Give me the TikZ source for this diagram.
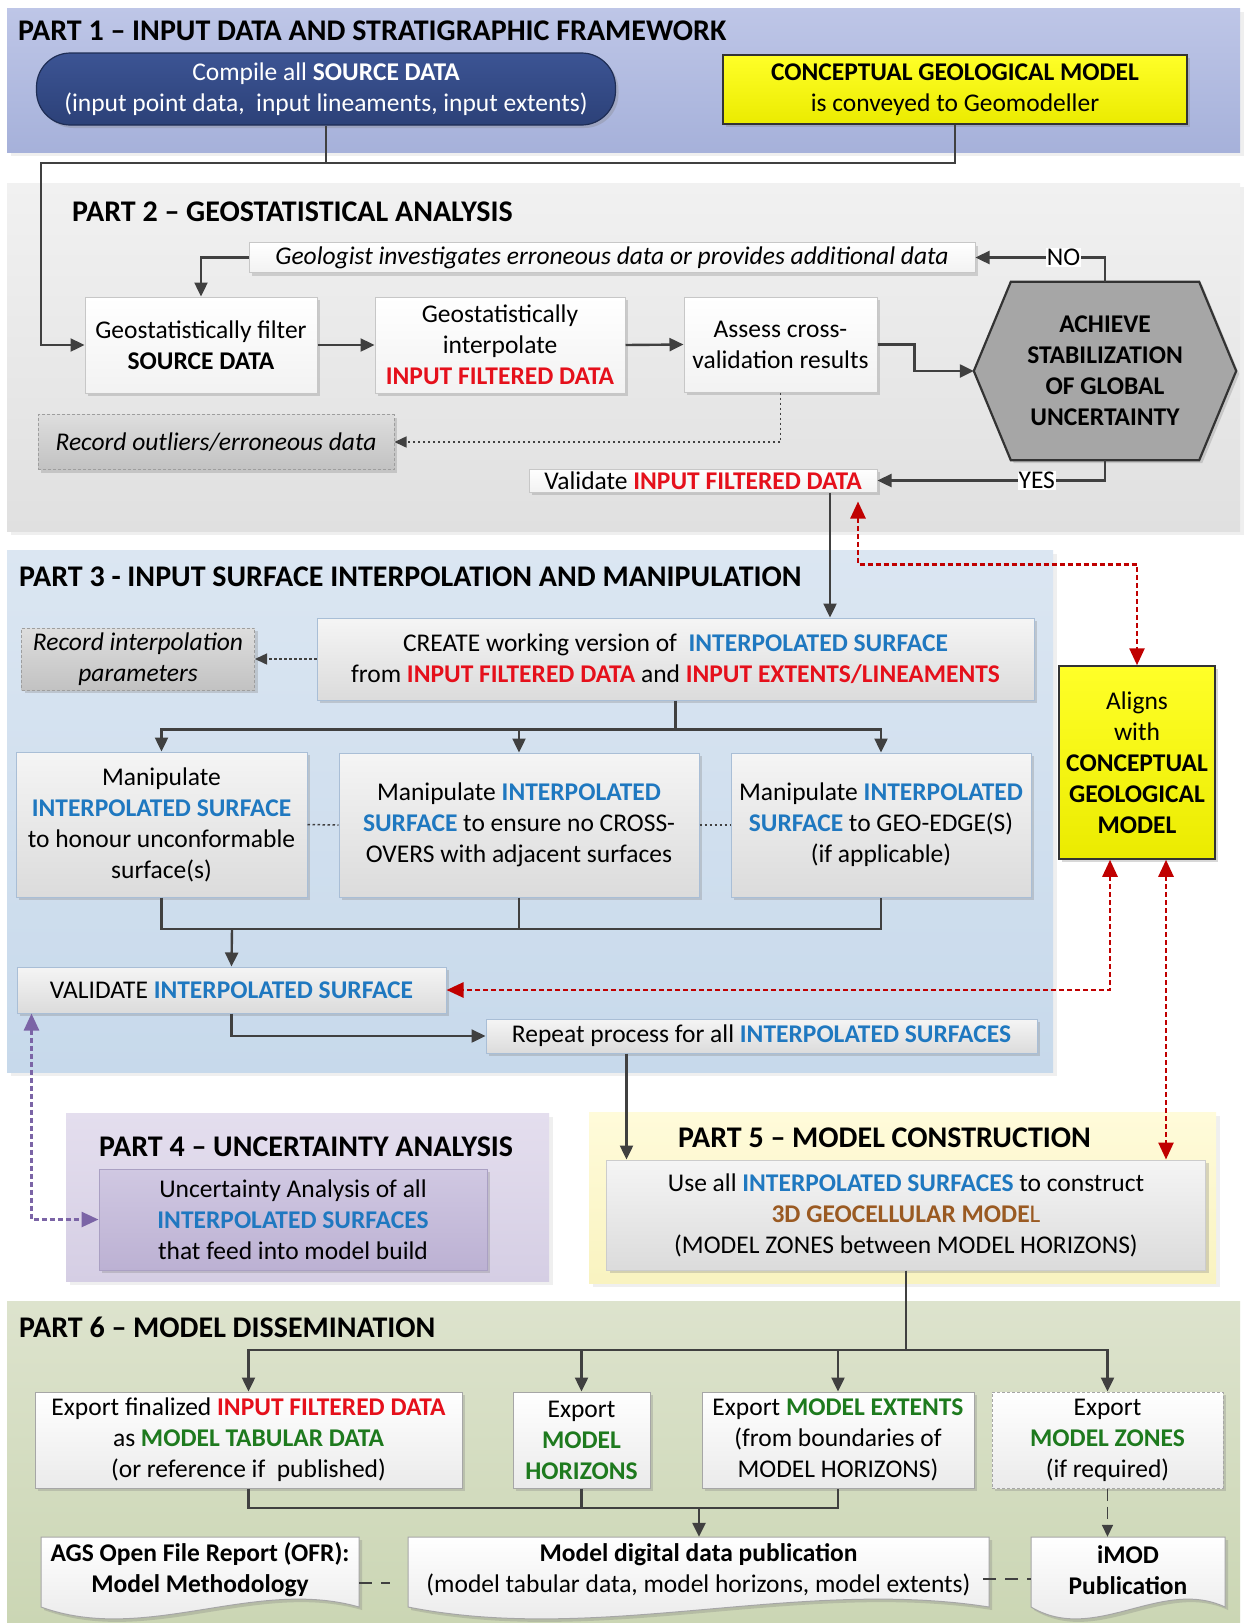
\documentclass[tikz,border=0pt]{standalone}
\usepackage{fontspec}
\setmainfont{Carlito}
\usetikzlibrary{calc,arrows.meta,shadows}
\definecolor{cred}{HTML}{E5101B}
\definecolor{cblue}{HTML}{1F78C0}
\definecolor{cgreen}{HTML}{1E7A1E}
\definecolor{cbrown}{HTML}{9A5A22}
\definecolor{cline}{HTML}{404040}
\definecolor{dred}{HTML}{C00000}
\definecolor{cpurp}{HTML}{7B64A6}
\definecolor{bluebd}{HTML}{A9BED6}
\newcommand{\rtx}[1]{\textcolor{cred}{\textbf{#1}}}
\newcommand{\btx}[1]{\textcolor{cblue}{\textbf{#1}}}
\newcommand{\gtx}[1]{\textcolor{cgreen}{\textbf{#1}}}
\pgfdeclarelayer{back}
\pgfdeclarelayer{mid}
\pgfsetlayers{back,mid,main}
\newcommand{\docshape}[4]{\draw[docs] (#1,#3) -- (#2,#3) -- (#2,#4) .. controls ({#2-0.33*(#2-#1)},{#4-30}) and ({#1+0.33*(#2-#1)},{#4+38}) .. (#1,#4) -- cycle;}
\begin{document}
\begin{tikzpicture}[x=1pt,y=-1pt,
  body/.style={font=\fontsize{25.5}{31}\selectfont},
  ttl/.style={anchor=west,inner sep=0pt,font=\fontsize{30}{36}\selectfont\bfseries},
  shad/.style={drop shadow={shadow xshift=3pt,shadow yshift=-3pt,opacity=0.3}},
  bandshad/.style={drop shadow={shadow xshift=4pt,shadow yshift=-4pt,opacity=0.12}},
  base/.style={body,rectangle,align=center,inner sep=1pt,shad},
  boxA/.style={base,draw=black!22,line width=1pt,top color=white,bottom color=black!5},
  boxB/.style={base,draw=bluebd,line width=1pt,top color=black!4,bottom color=black!14},
  boxC/.style={base,draw=black!35,line width=1pt,top color=white,bottom color=black!8},
  boxG/.style={base,draw=black!38,line width=1pt,dash pattern=on 3pt off 2pt,top color=black!13,bottom color=black!24,font=\fontsize{25.5}{31}\selectfont\itshape},
  yel/.style={base,draw=black!80,line width=1.5pt,top color={rgb,255:red,255;green,255;blue,40},bottom color={rgb,255:red,235;green,235;blue,0}},
  docs/.style={draw=black!35,line width=1pt,top color=white,bottom color=black!10,shad},
  hexs/.style={draw=black!80,line width=2.2pt,fill=black!35,shad},
  line/.style={draw=cline,line width=2.4pt},
  conn/.style={line,-{Triangle[length=14pt,width=13pt]}},
  dotl/.style={draw=cline,line width=1.5pt,dash pattern=on 2.5pt off 2.5pt},
  dota/.style={dotl,-{Triangle[length=12pt,width=11pt]}},
  dasha/.style={draw=cline,line width=1.6pt,dash pattern=on 12pt off 6pt,-{Triangle[length=12pt,width=11pt]}},
  dashl/.style={draw=cline,line width=2pt,dash pattern=on 13pt off 9pt},
  reda/.style={draw=dred,line width=2.6pt,dash pattern=on 5pt off 3pt,{Triangle[length=17pt,width=15pt]}-{Triangle[length=17pt,width=15pt]}},
  purpa/.style={draw=cpurp,line width=2.6pt,dash pattern=on 5pt off 3pt,{Triangle[length=17pt,width=15pt]}-{Triangle[length=17pt,width=15pt]}},
  lbl/.style={body,fill=white,inner sep=1pt}
]
\useasboundingbox (0,0) rectangle (1244,1623);
% ---------- bands ----------
\begin{pgfonlayer}{back}
\fill[white] (0,0) rectangle (1244,1623);
\fill[top color={rgb,255:red,190;green,198;blue,231},bottom color={rgb,255:red,166;green,177;blue,218},bandshad] (7,8) rectangle (1240,152);
\fill[top color={rgb,255:red,241;green,241;blue,241},bottom color={rgb,255:red,224;green,224;blue,224},bandshad] (7,183) rectangle (1240,531);
\fill[top color={rgb,255:red,219;green,230;blue,242},bottom color={rgb,255:red,199;green,217;blue,235},bandshad] (7,550) rectangle (1053,1072);
\fill[top color={rgb,255:red,228;green,222;blue,238},bottom color={rgb,255:red,213;green,206;blue,228},bandshad] (66,1113) rectangle (549,1281);
\fill[top color={rgb,255:red,255;green,251;blue,218},bottom color={rgb,255:red,249;green,243;blue,192},bandshad] (589,1112) rectangle (1216,1283);
\fill[top color={rgb,255:red,221;green,227;blue,205},bottom color={rgb,255:red,203;green,214;blue,180}] (7,1301) rectangle (1240,1623);
\end{pgfonlayer}
% ---------- titles ----------
\node[ttl] (t1) at (18,31) {PART 1 – INPUT DATA AND STRATIGRAPHIC FRAMEWORK};
\node[ttl] (t2) at (72,212) {PART 2 – GEOSTATISTICAL ANALYSIS};
\node[ttl] (t3) at (19,577) {PART 3 - INPUT SURFACE INTERPOLATION AND MANIPULATION};
\node[ttl] (t4) at (99,1147) {PART 4 – UNCERTAINTY ANALYSIS};
\node[ttl] (t5) at (678,1138) {PART 5 – MODEL CONSTRUCTION};
\node[ttl] (t6) at (19,1327) {PART 6 – MODEL DISSEMINATION};
% ---------- part 1 ----------
\node[base,text=white,draw={rgb,255:red,30;green,45;blue,85},line width=1.2pt,top color={rgb,255:red,60;green,84;blue,148},bottom color={rgb,255:red,44;green,65;blue,120},rounded corners=34pt,minimum width=579pt,minimum height=72pt] (src) at (326,89) {Compile all \textbf{SOURCE DATA}\\(input point data,~ input lineaments, input extents)};
\node[yel,minimum width=464pt,minimum height=69pt] (cgm) at (955,89.5) {\textbf{CONCEPTUAL GEOLOGICAL MODEL}\\is conveyed to Geomodeller};
% ---------- part 2 ----------
\node[boxA,minimum width=726pt,minimum height=30pt,font=\fontsize{25.5}{31}\selectfont\itshape] (geo) at (612,257.5) {Geologist investigates erroneous data or provides additional data};
\node[boxA,minimum width=232pt,minimum height=96pt] (gf) at (201,345) {Geostatistically filter\\\textbf{SOURCE DATA}};
\node[boxA,minimum width=250pt,minimum height=96pt] (gi) at (500,345) {Geostatistically\\interpolate\\\rtx{INPUT FILTERED DATA}};
\node[boxA,minimum width=193pt,minimum height=95pt] (ac) at (780.5,344.5) {Assess cross-\\validation results};
\node[body,align=center,inner sep=0pt,minimum width=262pt,minimum height=178pt,font=\fontsize{25.5}{31}\selectfont\bfseries] (hx) at (1105,371) {ACHIEVE\\STABILIZATION\\OF GLOBAL\\UNCERTAINTY};
\begin{pgfonlayer}{mid}
\draw[hexs] (hx.west) -- ([xshift=37pt]hx.north west) -- ([xshift=-37pt]hx.north east) -- (hx.east) -- ([xshift=-37pt]hx.south east) -- ([xshift=37pt]hx.south west) -- cycle;
\end{pgfonlayer}
\node[boxG,minimum width=356pt,minimum height=55pt] (rec) at (216,442) {Record outliers/erroneous data};
\node[boxA,minimum width=348pt,minimum height=23pt,inner sep=0pt] (val) at (703,480.5) {Validate \rtx{INPUT FILTERED DATA}};
% ---------- part 3 ----------
\node[boxG,minimum width=233pt,minimum height=62pt] (rip) at (138,659) {Record interpolation\\parameters};
\node[boxB,minimum width=717pt,minimum height=82pt] (cr) at (675.5,659) {CREATE working version of~ \btx{INTERPOLATED SURFACE}\\from \rtx{INPUT FILTERED DATA} and \rtx{INPUT EXTENTS/LINEAMENTS}};
\node[boxB,minimum width=291pt,minimum height=145pt] (m1) at (161.5,824.5) {Manipulate\\\btx{INTERPOLATED SURFACE}\\to honour unconformable\\surface(s)};
\node[boxB,minimum width=360pt,minimum height=144pt] (m2) at (519,825) {Manipulate \btx{INTERPOLATED}\\\btx{SURFACE} to ensure no CROSS-\\OVERS with adjacent surfaces};
\node[boxB,minimum width=300pt,minimum height=144pt] (m3) at (881,825) {Manipulate \btx{INTERPOLATED}\\\btx{SURFACE} to GEO-EDGE(S)\\(if applicable)};
\node[boxB,minimum width=429pt,minimum height=46pt] (vs) at (231.5,990) {VALIDATE \btx{INTERPOLATED SURFACE}};
\node[boxB,minimum width=551pt,minimum height=34pt,inner sep=0pt] (rp) at (761.5,1036) {Repeat process for all \btx{INTERPOLATED SURFACES}};
\node[yel,minimum width=156pt,minimum height=193pt] (al) at (1137,762.5) {Aligns\\with\\\textbf{CONCEPTUAL}\\\textbf{GEOLOGICAL}\\\textbf{MODEL}};
% ---------- part 4 / 5 ----------
\node[base,draw={rgb,255:red,170;green,160;blue,195},line width=1pt,top color={rgb,255:red,208;green,200;blue,226},bottom color={rgb,255:red,188;green,177;blue,211},minimum width=388pt,minimum height=101pt] (ua) at (293,1219.5) {Uncertainty Analysis of all\\\btx{INTERPOLATED SURFACES}\\that feed into model build};
\node[boxB,draw=black!20,minimum width=599pt,minimum height=110pt] (mc) at (906,1215) {Use all \btx{INTERPOLATED SURFACES} to construct\\\textcolor{cbrown}{\textbf{3D GEOCELLULAR MODE}L}\\(MODEL ZONES between MODEL HORIZONS)};
% ---------- part 6 ----------
\node[boxC,minimum width=427pt,minimum height=96pt] (e1) at (248.5,1440) {Export finalized \rtx{INPUT FILTERED DATA}\\as \gtx{MODEL TABULAR DATA}\\(or reference if~ published)};
\node[boxC,minimum width=137pt,minimum height=96pt] (e2) at (581.5,1440) {Export\\\gtx{MODEL}\\\gtx{HORIZONS}};
\node[boxC,minimum width=272pt,minimum height=96pt] (e3) at (838,1440) {Export \gtx{MODEL EXTENTS}\\(from boundaries of\\MODEL HORIZONS)};
\node[boxC,dash pattern=on 3pt off 2pt,minimum width=231pt,minimum height=96pt] (e4) at (1107.5,1440) {Export\\\gtx{MODEL ZONES}\\(if required)};
\begin{pgfonlayer}{mid}
\docshape{41}{359}{1537}{1607}
\docshape{408}{989}{1537}{1607}
\docshape{1031}{1225}{1537}{1607}
\end{pgfonlayer}
\node[body,align=center,inner sep=0pt,minimum width=318pt,minimum height=66pt] (d1) at (200,1570) {\textbf{AGS Open File Report (OFR):}\\\textbf{Model Methodology}};
\node[body,align=center,inner sep=0pt,minimum width=581pt,minimum height=66pt] (d2) at (698.5,1570) {\textbf{Model digital data publication}\\(model tabular data, model horizons, model extents)};
\node[body,align=center,inner sep=0pt,minimum width=194pt,minimum height=66pt] (d3) at (1128,1570) {\textbf{iMOD}\\\textbf{Publication}};
% ---------- connectors ----------
\coordinate (j1) at (41,163);
\draw[line] (cgm.south) |- (src.south |- j1);
\draw[conn] (src.south) |- (j1) |- (gf.west);
\draw[conn] (gf.east) -- (gi.west);
\draw[conn] (gi.east) -- (ac.west);
\draw[conn] (ac.east) -- ++(37,0) |- (hx.west);
\draw[conn] (hx.north) |- (geo.east) node[lbl,pos=0.66] {NO};
\draw[conn] (hx.south) |- (val.east) node[lbl,pos=0.65] {YES};
\draw[conn] (geo.west) -| (gf.north);
\draw[dota] (ac.south) |- (rec.east);
\coordinate (vb) at ([xshift=127pt]val.south);
\draw[conn] (vb) -- (vb |- cr.north);
\coordinate (vr) at ([xshift=155pt]val.south);
\draw[reda,shorten <=9pt] (vr) |- ($(al.north)+(0,-101)$) -- (al.north);
\draw[dota] (cr.west) -- (rip.east);
\coordinate (b1) at ($(cr.south)+(0,29)$);
\draw[line] (cr.south) -- (b1);
\draw[conn] (b1) -| (m1.north);
\draw[conn] (b1) -| (m3.north);
\draw[conn] (m2.north |- b1) -- (m2.north);
\draw[dotl] (m1.east) -- (m2.west);
\draw[dotl] (m2.east) -- (m3.west);
\coordinate (mg) at (232,929);
\draw[line] (m1.south) |- (m3.south |- mg) -- (m3.south);
\draw[line] (m2.south) -- (m2.south |- mg);
\draw[conn] (mg) -- (vs.north);
\draw[conn] (vs.south) |- (rp.west);
\coordinate (rpb) at ([xshift=-135pt]rp.south);
\draw[conn] (rpb) -- (rpb |- mc.north);
\coordinate (al1) at ([xshift=-27pt]al.south);
\draw[reda] (al1) |- (vs.east);
\coordinate (al2) at ([xshift=29pt]al.south);
\draw[reda] (al2) -- (al2 |- mc.north);
\coordinate (vsl) at ([xshift=-200pt]vs.south);
\draw[purpa] (vsl) |- (ua.west);
\coordinate (sp) at (906,1350);
\draw[conn] (mc.south) |- (e1.north |- sp) -- (e1.north);
\draw[conn] (mc.south) |- (e4.north |- sp) -- (e4.north);
\draw[conn] (e2.north |- sp) -- (e2.north);
\draw[conn] (e3.north |- sp) -- (e3.north);
\coordinate (bm) at (699,1508);
\draw[line] (e1.south) |- (e3.south |- bm) -- (e3.south);
\draw[line] (e2.south) -- (e2.south |- bm);
\draw[conn] (bm) -- (bm |- d2.north);
\draw[dasha] (e4.south) -- (e4.south |- d3.north);
\draw[dashl] ([yshift=-13pt]d1.east) -- ([yshift=-13pt,xshift=-18pt]d2.west);
\draw[dashl] ([yshift=-9pt,xshift=-6pt]d2.east) -- ([yshift=-9pt]d3.west);
\end{tikzpicture}
\end{document}
